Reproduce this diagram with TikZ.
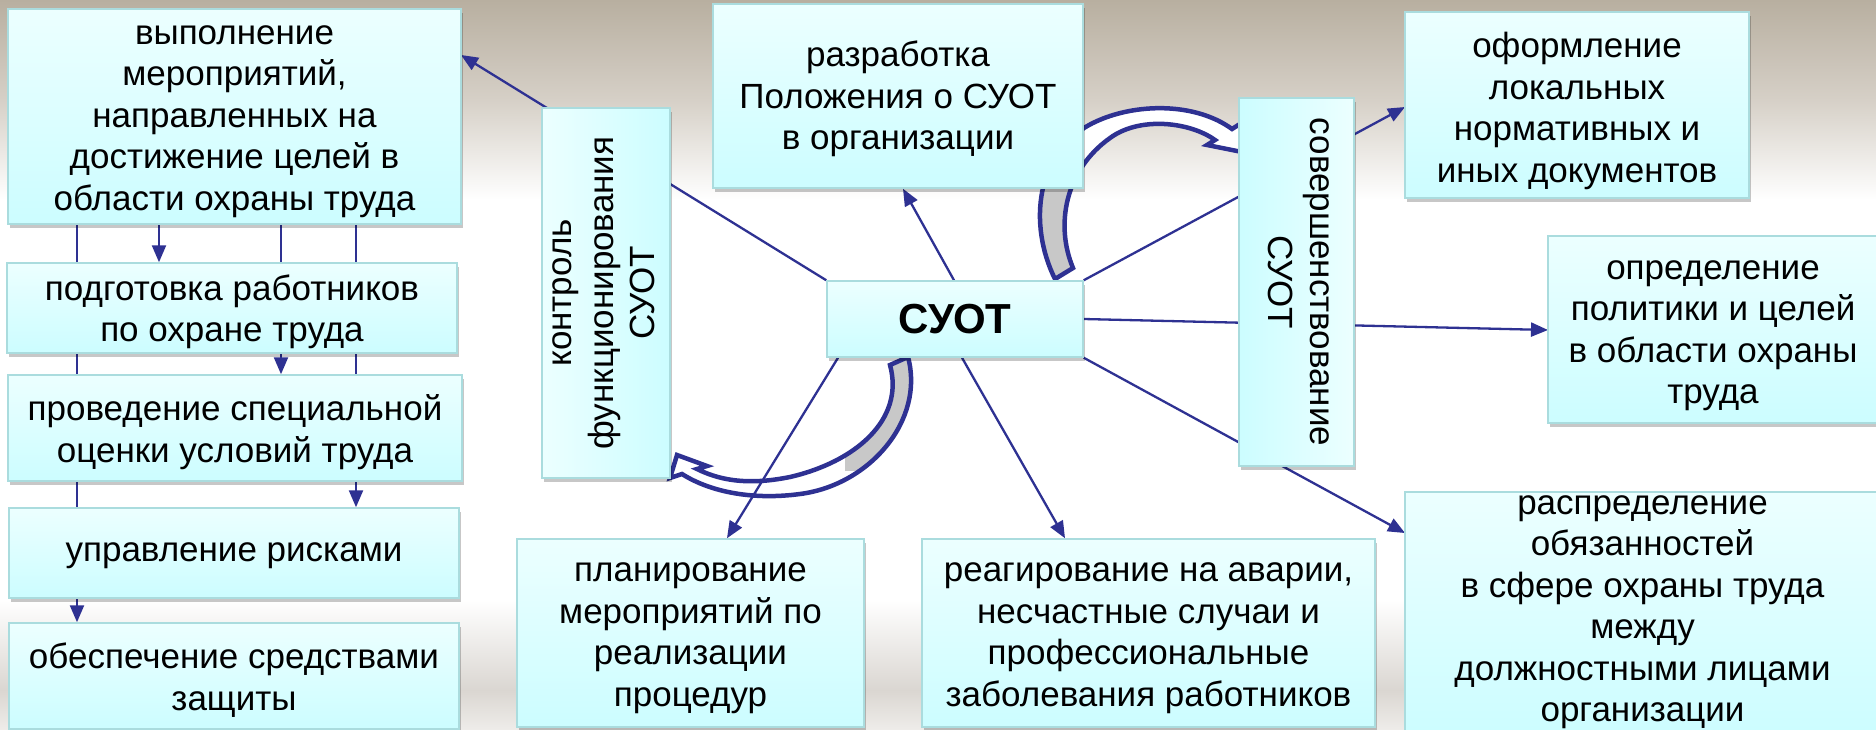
\documentclass[tikz,border=0pt]{standalone}
\usepackage{fontspec}
\setmainfont{Liberation Sans}
\usetikzlibrary{arrows.meta,shadows}
\definecolor{navy}{RGB}{46,49,146}
\definecolor{boxlight}{RGB}{236,255,255}
\definecolor{boxdark}{RGB}{204,253,255}
\definecolor{boxedge}{RGB}{170,220,222}
\definecolor{bgtop}{RGB}{184,175,160}
\definecolor{bgmid}{RGB}{214,208,199}
\definecolor{bgbot}{RGB}{218,214,209}
\definecolor{bgbotl}{RGB}{238,236,233}
\definecolor{ribbongrey}{RGB}{200,200,200}
\pgfdeclarelayer{bg}\pgfdeclarelayer{back}\pgfsetlayers{bg,back,main}
\newcommand\lbl{\fontsize{35pt}{41.5pt}\selectfont}
\tikzset{
  boxbase/.style={draw=boxedge, line width=1.5pt, inner sep=0pt,
    drop shadow={shadow xshift=2pt, shadow yshift=-4pt, opacity=0.22, fill=black}},
  box/.style={boxbase, top color=boxlight, bottom color=boxdark},
  kbox/.style={boxbase, left color=boxlight, right color=boxdark},
  sbox/.style={boxbase, left color=boxdark, right color=boxlight},
  txt/.style={align=center, font=\lbl, inner sep=0pt},
  conn/.style={draw=navy, line width=2.3pt},
  arr/.style={-{Triangle[length=17pt,width=14pt]}},
  ribbon/.style={draw=navy, line width=4.5pt, line join=miter}
}
\begin{document}
\begin{tikzpicture}[x=1pt,y=-1pt]
\useasboundingbox (0,0) rectangle (1876,729);
\begin{pgfonlayer}{bg}
\shade[top color=bgtop, bottom color=white, middle color=bgmid] (0,0) rectangle (1876,200);
\fill[white] (0,199) rectangle (1876,601);
\shade[top color=white, bottom color=bgbot] (0,600) rectangle (1876,691);
\shade[top color=bgbot, bottom color=bgbotl] (0,690) rectangle (1876,729);
\end{pgfonlayer}

% left column
\node[box, minimum width=453pt, minimum height=215pt] (B1) at (234.5,116.5) {};
\node[txt] (B1t) at ([yshift=-5pt]B1.center)
  {выполнение\\мероприятий,\\направленных на\\достижение целей в\\области охраны труда};
\node[box, minimum width=450pt, minimum height=90pt] (B2) at (232,308) {};
\node[txt] (B2t) at ([yshift=-4pt]B2.center) {подготовка работников\\по охране труда};
\node[box, minimum width=454pt, minimum height=106pt] (B3) at (235,428) {};
\node[txt] (B3t) at ([yshift=-4pt]B3.center) {проведение специальной\\оценки условий труда};
\node[box, minimum width=450pt, minimum height=90pt] (B4) at (234,553) {};
\node[txt] (B4t) at ([yshift=-3pt]B4.center) {управление рисками};
\node[box, minimum width=450pt, minimum height=106pt] (B5) at (234,676) {};
\node[txt] (B5t) at ([yshift=-4pt]B5.center) {обеспечение средствами\\защиты};

% vertical boxes
\node[kbox, minimum width=128pt, minimum height=370pt] (K) at (606,293) {};
\node[txt, rotate=90] (Kt) at ([xshift=-2pt]K.center) {контроль\\функционирования\\СУОТ};
\node[sbox, minimum width=115pt, minimum height=368pt] (V) at (1296.5,282) {};
\node[txt, rotate=-90] (Vt) at ([xshift=2pt]V.center) {совершенствование\\СУОТ};

% centre and others
\node[box, minimum width=370pt, minimum height=184pt] (R) at (898,96) {};
\node[txt] (Rt) at ([yshift=-3pt]R.center) {разработка\\Положения о СУОТ\\в организации};
\node[box, minimum width=256pt, minimum height=76pt] (S) at (955,319) {};
\node[txt, font=\fontsize{42pt}{48pt}\selectfont\bfseries] (St) at (S.center) {СУОТ};
\node[box, minimum width=344pt, minimum height=186pt] (O) at (1577,105) {};
\node[txt] (Ot) at ([yshift=-6pt]O.center) {оформление\\локальных\\нормативных и\\иных документов};
\node[box, minimum width=330pt, minimum height=187pt] (D) at (1713,329.5) {};
\node[txt] (Dt) at ([yshift=-6pt]D.center) {определение\\политики и целей\\в области охраны\\труда};
\node[box, minimum width=475pt, minimum height=245pt] (Q) at (1642.5,614.5) {};
\node[txt] (Qt) at (1642.5,612)
  {распределение\\обязанностей\\в сфере охраны труда\\между\\должностными лицами\\организации};
\node[box, minimum width=347pt, minimum height=188pt] (P) at (690.5,633) {};
\node[txt] (Pt) at ([yshift=-5pt]P.center) {планирование\\мероприятий по\\реализации\\процедур};
\node[box, minimum width=453pt, minimum height=188pt] (E) at (1148.5,633) {};
\node[txt] (Et) at ([yshift=-5pt]E.center)
  {реагирование на аварии,\\несчастные случаи и\\профессиональные\\заболевания работников};

\coordinate (xa) at (77,0);
\coordinate (xb) at (159,0);
\coordinate (xc) at (281,0);
\coordinate (xd) at (356,0);
\coordinate (tB1) at (461,55);
\coordinate (sR) at (954,0);
\coordinate (tR) at (903,0);
\coordinate (tO) at (1405,107);
\coordinate (tD) at (1548,330);
\coordinate (tQ) at (1405,533);
\coordinate (sP) at (838,0);
\coordinate (tP) at (727,0);
\coordinate (sE) at (962,0);
\coordinate (tE) at (1065,0);

\begin{pgfonlayer}{back}
% curved arrow towards "совершенствование"
\fill[white] (1055,279) .. controls (1028,225) and (1035,150) .. (1095,122)
  .. controls (1135,103) and (1195,102) .. (1232,129) -- (1243,122) -- (1242,152)
  -- (1207,145) -- (1215,140) .. controls (1190,122) and (1140,116) .. (1110,138)
  .. controls (1065,170) and (1055,225) .. (1073,268) -- cycle;
\begin{scope}
\clip (1000,180) rectangle (1100,300);
\fill[ribbongrey] (1055,279) .. controls (1028,225) and (1035,150) .. (1095,122)
  .. controls (1135,103) and (1195,102) .. (1232,129) -- (1243,122) -- (1242,152)
  -- (1207,145) -- (1215,140) .. controls (1190,122) and (1140,116) .. (1110,138)
  .. controls (1065,170) and (1055,225) .. (1073,268) -- cycle;
\end{scope}
\draw[ribbon] (1055,279) .. controls (1028,225) and (1035,150) .. (1095,122)
  .. controls (1135,103) and (1195,102) .. (1232,129) -- (1243,122) -- (1242,152)
  -- (1207,145) -- (1215,140) .. controls (1190,122) and (1140,116) .. (1110,138)
  .. controls (1065,170) and (1055,225) .. (1073,268) -- cycle;
% curved arrow towards "контроль"
\fill[white] (890,365) -- (908,357) .. controls (925,420) and (870,485) .. (800,494)
  .. controls (755,500) and (712,493) .. (682,474) -- (670,478) -- (677,455) -- (707,466)
  -- (697,469) .. controls (725,483) and (755,484) .. (790,477)
  .. controls (855,462) and (905,420) .. (890,365) -- cycle;
\begin{scope}
\clip (845,340) rectangle (940,470);
\fill[ribbongrey] (890,365) -- (908,357) .. controls (925,420) and (870,485) .. (800,494)
  .. controls (755,500) and (712,493) .. (682,474) -- (670,478) -- (677,455) -- (707,466)
  -- (697,469) .. controls (725,483) and (755,484) .. (790,477)
  .. controls (855,462) and (905,420) .. (890,365) -- cycle;
\end{scope}
\draw[ribbon] (890,365) -- (908,357) .. controls (925,420) and (870,485) .. (800,494)
  .. controls (755,500) and (712,493) .. (682,474) -- (670,478) -- (677,455) -- (707,466)
  -- (697,469) .. controls (725,483) and (755,484) .. (790,477)
  .. controls (855,462) and (905,420) .. (890,365) -- cycle;

% left column connectors
\draw[conn,arr] (B1.south -| xa) -- (B5.north -| xa);
\draw[conn,arr] (B1.south -| xb) -- (B2.north -| xb);
\draw[conn,arr] (B1.south -| xc) -- (B3.north -| xc);
\draw[conn,arr] (B1.south -| xd) -- (B4.north -| xd);
% radial connectors
\draw[conn,arr] (S.north west) -- (tB1);
\draw[conn,arr] (S.north -| sR) -- (R.south -| tR);
\draw[conn,arr] (S.north east) -- (tO);
\draw[conn,arr] (S.east) -- (tD);
\draw[conn,arr] (S.south east) -- (tQ);
\draw[conn,arr] (S.south -| sP) -- (P.north -| tP);
\draw[conn,arr] (S.south -| sE) -- (E.north -| tE);
\end{pgfonlayer}
\end{tikzpicture}
\end{document}
